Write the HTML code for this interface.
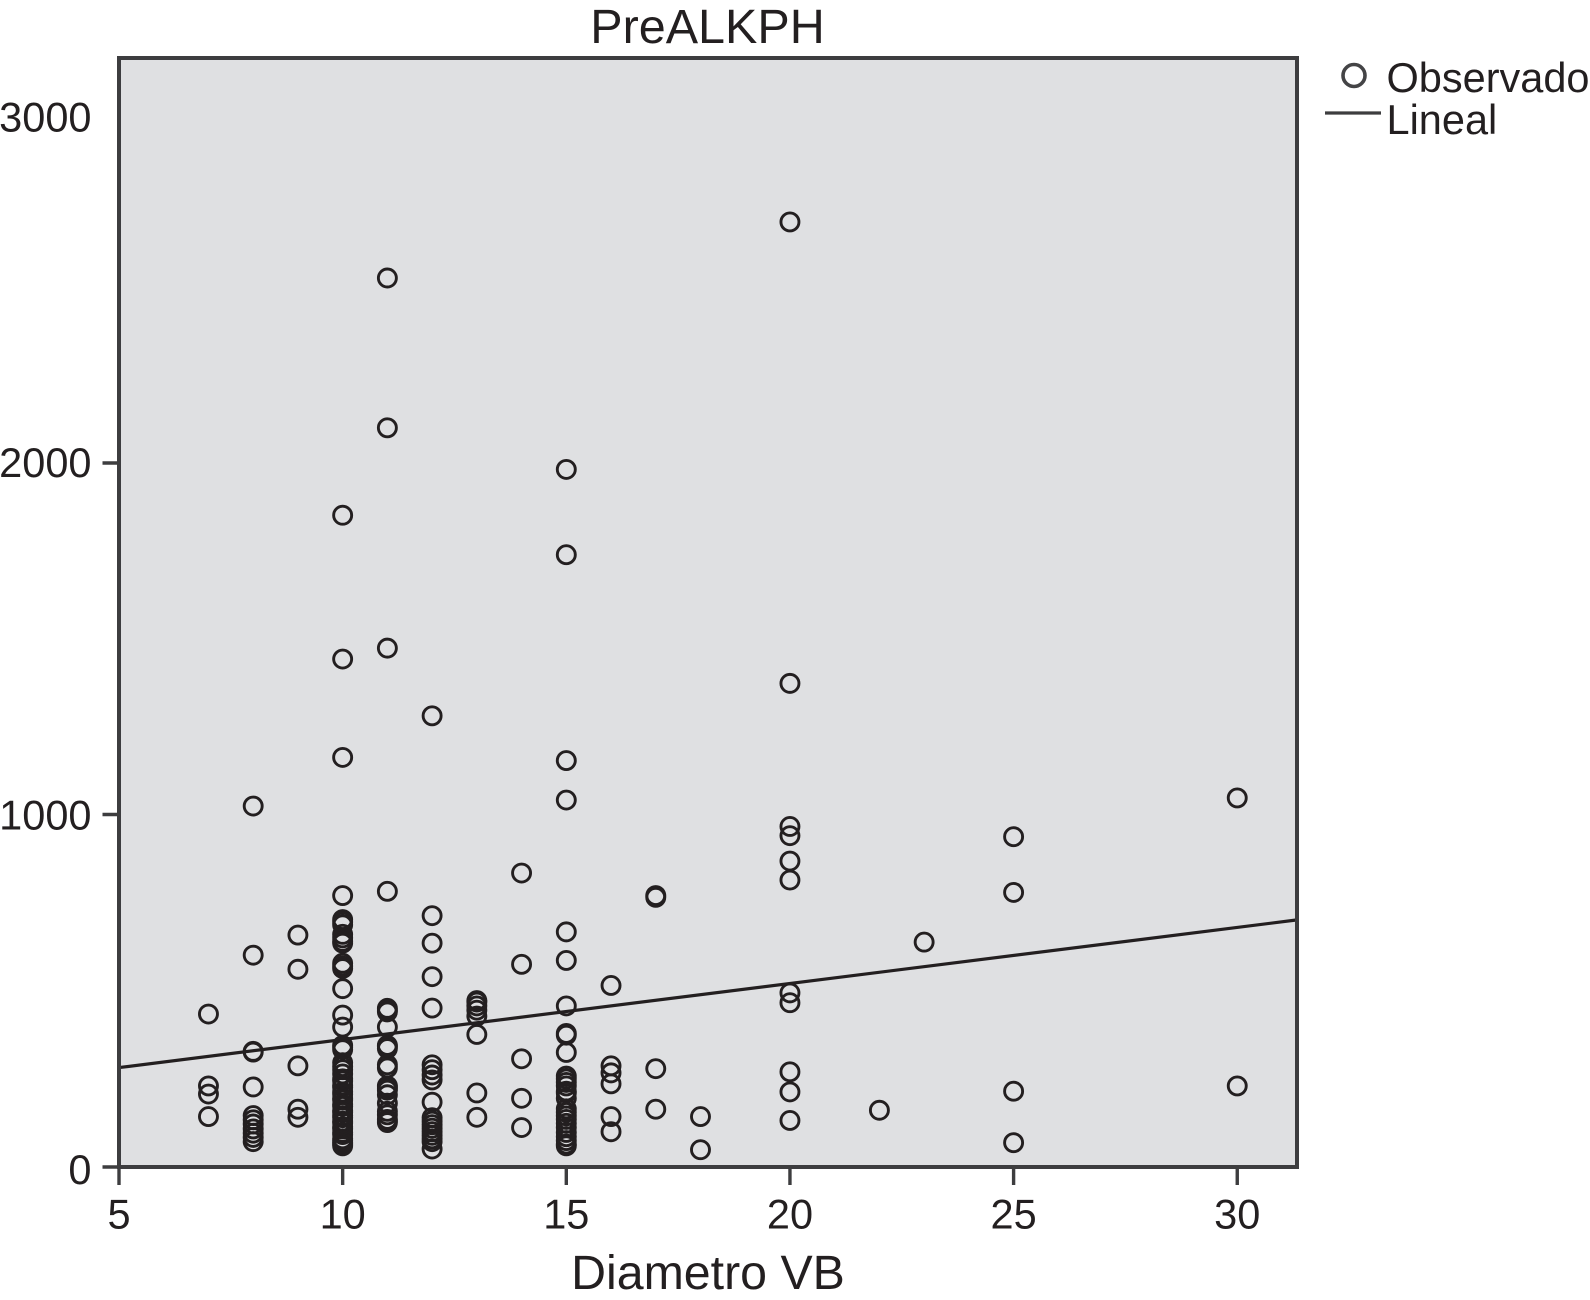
<!DOCTYPE html>
<html>
<head>
<meta charset="utf-8">
<title>PreALKPH</title>
<style>
html,body{margin:0;padding:0;background:#fff;width:1590px;height:1300px;overflow:hidden}
svg{display:block}
text{font-family:"Liberation Sans",Arial,sans-serif;fill:#231f20}
</style>
</head>
<body>
<svg id="chart" xmlns="http://www.w3.org/2000/svg" width="1590" height="1300" viewBox="0 0 1590 1300">
  <rect x="119" y="58" width="1178" height="1109" fill="#dfe0e2"/>
  <g id="marks"></g>
  <line id="fit" stroke="#231f20" stroke-width="3.2"/>
  <rect x="119" y="58" width="1178" height="1109" fill="none" stroke="#3d3d3f" stroke-width="4"/>
  <g id="axes"></g>
  <text x="707.500" y="43" font-size="48.500" text-anchor="middle">PreALKPH</text>
  <text x="708" y="1289" font-size="48.300" text-anchor="middle">Diametro VB</text>
  <g>
    <circle cx="1354" cy="75.500" r="11" fill="none" stroke="#444446" stroke-width="3.6"/>
    <text x="1386.500" y="92" font-size="41.500">Observado</text>
    <line x1="1325" x2="1381" y1="113" y2="113" stroke="#3d3d3f" stroke-width="3.2"/>
    <text x="1386.500" y="134" font-size="41.500">Lineal</text>
  </g>
</svg>
<script>
const categories = [7, 8, 9, 10, 11, 12, 13, 14, 15, 16, 17, 18, 20, 22, 23, 25, 30];
const obs7 = [434, 230, 207, 143];
const obs8 = [1024, 601, 328, 326, 227, 146, 134, 122, 108, 96, 84, 72];
const obs9 = [658, 561, 287, 164, 141];
const obs10 = [1849, 1441, 1162, 770, 702, 695, 687, 660, 650, 640, 635, 578, 570, 563, 506, 431, 397, 345, 340, 333, 296, 285, 276, 264, 250, 244, 232, 226, 213, 206, 195, 190, 178, 172, 160, 155, 146, 140, 130, 125, 114, 108, 98, 92, 80, 75, 70, 65, 60];
const obs11 = [2522, 2097, 1472, 782, 450, 445, 440, 397, 345, 342, 336, 290, 281, 230, 227, 222, 218, 205, 181, 158, 148, 135, 130, 126];
const obs12 = [1280, 713, 635, 540, 451, 290, 276, 261, 247, 184, 140, 130, 120, 110, 100, 90, 80, 72, 51];
const obs13 = [472, 468, 457, 445, 428, 376, 210, 141];
const obs14 = [834, 575, 307, 195, 112];
const obs15 = [1979, 1737, 1153, 1041, 667, 586, 457, 379, 374, 325, 258, 250, 240, 230, 215, 210, 195, 165, 155, 145, 135, 124, 112, 98, 86, 75, 65, 60];
const obs16 = [515, 287, 267, 236, 143, 100];
const obs17 = [770, 765, 279, 164];
const obs18 = [143, 49];
const obs20 = [2681, 1372, 966, 940, 868, 814, 494, 466, 270, 213, 132];
const obs22 = [161];
const obs23 = [638];
const obs25 = [937, 779, 215, 69];
const obs30 = [1047, 230];
const observed = [obs7, obs8, obs9, obs10, obs11, obs12, obs13, obs14, obs15, obs16, obs17, obs18, obs20, obs22, obs23, obs25, obs30];
const fitX = [5, 31.34];
const fitY = [282, 701];
const xTicks = [5, 10, 15, 20, 25, 30];
const yTicks = [0, 1000, 2000];
const yTickLabels = [0, 1000, 2000, 3000];

const NS = 'http://www.w3.org/2000/svg';
function sx(v) { return 119 + (v - 5) * 44.73; }
function sy(v) { return 1167 - v * 0.3525; }
function make(tag, attrs, parent) {
  const el = document.createElementNS(NS, tag);
  for (const k in attrs) el.setAttribute(k, attrs[k]);
  parent.appendChild(el);
  return el;
}

const marks = document.getElementById('marks');
categories.forEach(function (cat, i) {
  observed[i].forEach(function (val) {
    const c = make('circle', { cx: sx(cat), cy: sy(val), r: 9, fill: 'none', stroke: '#231f20', 'stroke-width': 2.9 }, marks);
    
    
  });
});

const fit = document.getElementById('fit');
fit.setAttribute('x1', sx(fitX[0]));
fit.setAttribute('y1', sy(fitY[0]));
fit.setAttribute('x2', sx(fitX[1]));
fit.setAttribute('y2', sy(fitY[1]));

const axes = document.getElementById('axes');
xTicks.forEach(function (t) {
  const tick = make('line', { x1: sx(t), x2: sx(t), y1: 1167, y2: 1185, stroke: '#3d3d3f', 'stroke-width': 3.4 }, axes);
  
  
  const label = make('text', { x: sx(t), y: 1228.5, 'font-size': 41.5, 'text-anchor': 'middle' }, axes);
  label.textContent = t;
  
  
});
yTicks.forEach(function (t) {
  const tick = make('line', { x1: 102.500, x2: 119, y1: sy(t) + (t === 2000 ? 1 : 0), y2: sy(t) + (t === 2000 ? 1 : 0), stroke: '#3d3d3f', 'stroke-width': 3.4 }, axes);
  
  
});
yTickLabels.forEach(function (t) {
  let nudge = 15;
  if (t === 0) nudge = 17;
  if (t === 3000) nudge = 22;
  const label = make('text', { x: 91.5, y: sy(t) + nudge, 'font-size': 41.5, 'text-anchor': 'end' }, axes);
  label.textContent = t;
  
  
});
</script>
</body>
</html>
